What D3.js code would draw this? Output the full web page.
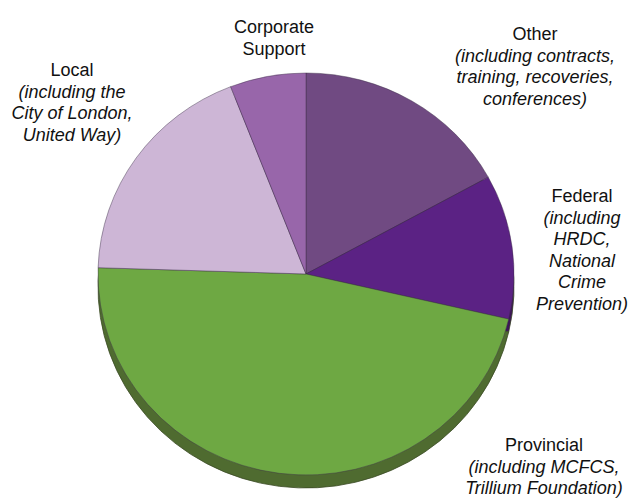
<!DOCTYPE html>
<html>
<head>
<meta charset="utf-8">
<script src="https://cdn.jsdelivr.net/npm/d3@7"></script>
<style>
    body { margin: 0; background: #ffffff; }
    #chart { width: 629px; height: 498px; }
    .label { font-family: "Liberation Sans", Arial, sans-serif; font-size: 18px; fill: #111111; }
    .label .sub { font-style: italic; }
</style>
</head>
<body>
<div id="chart"></div>
<script>

    /*
    DATA
    */
    const categories = ["Other", "Federal", "Provincial", "Local", "Corporate Support"];
    const shares = [17.0, 11.6, 46.9, 18.6, 5.9];
    const labelLines = [
        ["Other", "(including contracts,", "training, recoveries,", "conferences)"],
        ["Federal", "(including", "HRDC,", "National", "Crime", "Prevention)"],
        ["Provincial", "(including MCFCS,", "Trillium Foundation)"],
        ["Local", "(including the", "City of London,", "United Way)"],
        ["Corporate", "Support"]
    ];

    const topColors = ["#704a82", "#5b2284", "#6ea843", "#cdb6d6", "#9866aa"];
    const sideColors = ["#4d3359", "#3d1659", "#4f6b30", "#8e7c96", "#684775"];

    /*
    DEFINE DIMENSIONS OF SVG + CREATE SVG CANVAS
    */
    const width = 629;
    const height = 498;
    const center = {x: 306, y: 274};
    const radius = {x: 208, y: 201};
    const depth = 13;

    const svg = d3.select("#chart")
        .append("svg")
        .attr("width", width)
        .attr("height", height);

    /*
    PIE LAYOUT + ARC GENERATOR
    */
    const pie = d3.pie()
        .sort(null)
        .value(function(d) { return d; });

    const arcs = pie(shares);

    const arc = d3.arc()
        .innerRadius(0)
        .outerRadius(radius.x);

    const squash = radius.y / radius.x;

    /*
    DRAW SIDE (3D DEPTH)
    */
    const sideFace = svg.append("g")
        .attr("transform", `translate(${center.x},${center.y + depth}) scale(1,${squash})`);

    sideFace.selectAll("path")
        .data(arcs)
        .enter()
        .append("path")
            .attr("d", arc)
            .attr("fill", function(d, i) { return sideColors[i]; })
            .attr("stroke", "#3b4a25")
            .attr("stroke-width", 0.8);

    /*
    DRAW TOP FACE
    */
    const topFace = svg.append("g")
        .attr("transform", `translate(${center.x},${center.y}) scale(1,${squash})`);

    topFace.selectAll("path")
        .data(arcs)
        .enter()
        .append("path")
            .attr("d", arc)
            .attr("fill", function(d, i) { return topColors[i]; })
            .attr("stroke", "rgba(60,45,70,0.45)")
            .attr("stroke-width", 1);

    /*
    DRAW LABELS
    */
    const labelPos = [
        {x: 535, y: 40},
        {x: 582, y: 202},
        {x: 544, y: 451},
        {x: 72, y: 76},
        {x: 274, y: 33}
    ];
    const lineStep = 21.5;

    labelLines.forEach(function(lines, i) {
        const t = svg.append("text")
            .attr("class", "label")
            .attr("text-anchor", "middle")
            .attr("x", labelPos[i].x)
            .attr("y", labelPos[i].y);

        t.selectAll("tspan")
            .data(lines)
            .enter()
            .append("tspan")
                .attr("class", function(d, j) { return (j > 0 && i !== 4) ? "sub" : null; })
                .attr("x", labelPos[i].x)
                .attr("y", function(d, j) { return labelPos[i].y + j * lineStep; })
                .text(function(d) { return d; });
    });

</script>
</body>
</html>
